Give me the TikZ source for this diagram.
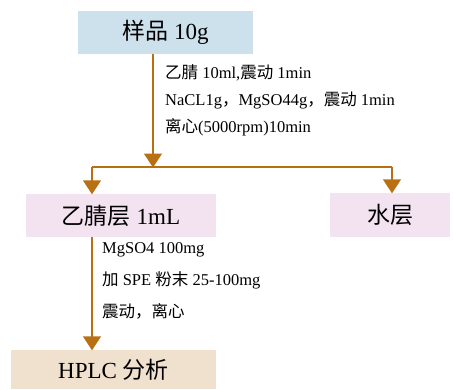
\documentclass[tikz,border=0pt]{standalone}
\usepackage{fontspec}
\setmainfont{Liberation Serif}
\newfontfamily\cjk{Noto Sans CJK SC}
\usetikzlibrary{arrows.meta}
\definecolor{arrbrown}{RGB}{184,112,18}
\definecolor{boxblue}{RGB}{205,225,236}
\definecolor{boxpink}{RGB}{243,226,240}
\definecolor{boxbeige}{RGB}{240,224,206}
\tikzset{
  box/.style={rectangle, inner sep=0pt, font=\fontsize{23}{26}\selectfont},
  note/.style={anchor=west, inner sep=0pt, font=\fontsize{16.5}{19}\selectfont},
  conn/.style={draw=arrbrown, line width=1.5pt},
  arr/.style={conn, -{Triangle[width=18pt,length=14pt]}, shorten >=-0.5pt},
}
\begin{document}
\begin{tikzpicture}[x=1pt,y=-1pt]
\useasboundingbox (0,0) rectangle (453,389);
\node[box, fill=boxblue, minimum width=175pt, minimum height=43pt] (s) at (165.5,32.5) {{\cjk 样品} 10g};
\node[box, fill=boxpink, minimum width=190pt, minimum height=43pt] (a) at (121,215.5) {{\cjk 乙腈层} 1mL};
\node[box, fill=boxpink, minimum width=120pt, minimum height=44pt] (w) at (390,215) {{\cjk 水层}};
\node[box, fill=boxbeige, minimum width=205pt, minimum height=39pt] (h) at (113.5,369.5) {HPLC {\cjk 分析}};

\coordinate (j) at (153,167);
\coordinate (jl) at (92,167);
\coordinate (jr) at (392,167);

\draw[arr] (s.south -| j) -- (j);
\draw[conn] (jl) -- (jr);
\draw[arr] (jl) -- (jl |- a.north);
\draw[arr] (jr) -- (jr |- w.north);
\draw[arr] (jl |- a.south) -- (jl |- h.north);

\node[note] (n1) at (165,73) {{\cjk 乙腈} 10ml,{\cjk 震动} 1min};
\node[note] (n2) at (165,100) {NaCL1g{\cjk ，}MgSO44g{\cjk ，震动} 1min};
\node[note] (n3) at (165,127) {{\cjk 离心}(5000rpm)10min};

\node[note] (m1) at (102,250) {MgSO4 100mg};
\node[note] (m2) at (102,280) {{\cjk 加} SPE {\cjk 粉末} 25-100mg};
\node[note] (m3) at (102,311) {{\cjk 震动，离心}};
\end{tikzpicture}
\end{document}
